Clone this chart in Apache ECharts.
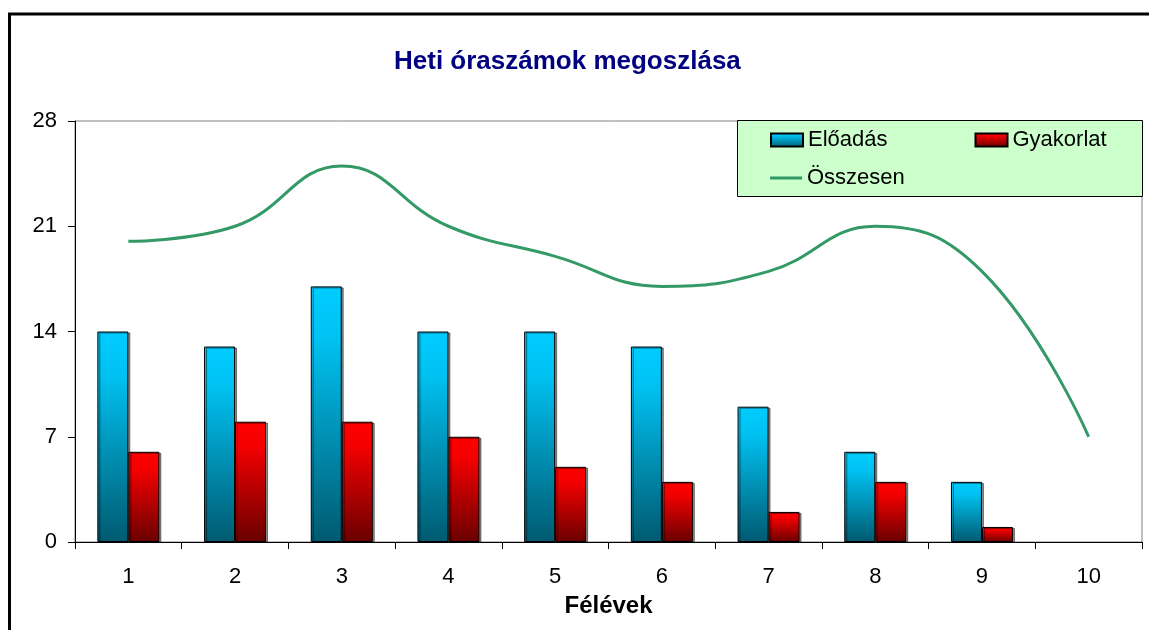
<!DOCTYPE html>
<html>
<head>
<meta charset="utf-8">
<script src="https://cdn.jsdelivr.net/npm/echarts@6/dist/echarts.min.js"></script>
<style>
  html, body { margin: 0; padding: 0; background: #fff; }
  #chart { width: 1149px; height: 630px; }
</style>
</head>
<body>
<div id="chart"></div>
<script>
const semesters = ['1', '2', '3', '4', '5', '6', '7', '8', '9', '10'];
const eloadas = [14, 13, 17, 14, 14, 13, 9, 6, 4, 0];
const gyakorlat = [6, 8, 8, 7, 5, 4, 2, 4, 1, 0];
const osszesen = [20, 21, 25, 21, 19, 17, 18, 21, 18, 7];
const yTicks = [0, 7, 14, 21, 28];

const font = 'Liberation Sans, Arial, sans-serif';

// zero bars are not drawn in the original, so skip them
const noZero = arr => arr.map(v => (v === 0 ? '-' : v));

const blueGrad = new echarts.graphic.LinearGradient(0, 0, 0, 1, [
  { offset: 0, color: '#00ccff' },
  { offset: 0.2, color: '#00c2f2' },
  { offset: 1, color: '#005a70' }
]);
const redGrad = new echarts.graphic.LinearGradient(0, 0, 0, 1, [
  { offset: 0, color: '#ff0000' },
  { offset: 0.2, color: '#f40000' },
  { offset: 1, color: '#6a0000' }
]);

const barShadow = {
  borderColor: '#000',
  borderWidth: 1,
  shadowColor: 'rgba(0,0,0,0.45)',
  shadowOffsetX: 2,
  shadowOffsetY: 1,
  shadowBlur: 0
};

const option = {
  animation: false,
  textStyle: { fontFamily: font },
  title: {
    text: 'Heti óraszámok megoszlása',
    left: 389,
    top: 44,
    textStyle: { fontFamily: font, fontSize: 26, fontWeight: 'bold', color: '#000080' }
  },
  graphic: [
    {
      type: 'rect',
      z: 0,
      shape: { x: 9.5, y: 14, width: 1170, height: 660 },
      style: { fill: 'none', stroke: '#000', lineWidth: 3 }
    },
    {
      type: 'rect',
      z: 1,
      shape: { x: 737.5, y: 120.5, width: 405, height: 76 },
      style: { fill: '#ccffcc', stroke: '#000', lineWidth: 1 }
    }
  ],
  legend: [
    {
      data: [{ name: 'Előadás', icon: 'rect' }, { name: 'Gyakorlat', icon: 'rect' }],
      left: 770,
      top: 129,
      padding: 0,
      itemWidth: 32,
      itemHeight: 13,
      itemGap: 87,
      z: 5,
      textStyle: { fontFamily: font, fontSize: 22, color: '#000' }
    },
    {
      data: [{ name: 'Összesen', icon: 'rect' }],
      left: 770,
      top: 167,
      padding: 0,
      itemWidth: 32,
      itemHeight: 3,
      z: 5,
      textStyle: { fontFamily: font, fontSize: 22, color: '#000' }
    }
  ],
  grid: {
    left: 75,
    right: 7,
    top: 121,
    bottom: 88,
    show: true,
    borderColor: '#808080',
    borderWidth: 1,
    backgroundColor: 'transparent'
  },
  xAxis: {
    type: 'category',
    data: semesters,
    name: 'Félévek',
    nameLocation: 'middle',
    nameGap: 52,
    nameTextStyle: { fontFamily: font, fontSize: 24, fontWeight: 'bold', color: '#000' },
    axisLine: { lineStyle: { color: '#000', width: 1 } },
    axisTick: { show: true, length: 7, lineStyle: { color: '#000' } },
    axisLabel: { fontFamily: font, fontSize: 22, color: '#000', margin: 24 },
    splitLine: { show: false }
  },
  yAxis: {
    type: 'value',
    min: yTicks[0],
    max: yTicks[yTicks.length - 1],
    interval: 7,
    axisLine: { show: true, lineStyle: { color: '#000', width: 1 } },
    axisTick: { show: true, length: 7, lineStyle: { color: '#000' } },
    axisLabel: { fontFamily: font, fontSize: 22, color: '#000', margin: 18 },
    splitLine: { show: false }
  },
  series: [
    {
      name: 'Előadás',
      type: 'bar',
      data: noZero(eloadas),
      barWidth: 31,
      barGap: '0%',
      itemStyle: Object.assign({ color: blueGrad }, barShadow)
    },
    {
      name: 'Gyakorlat',
      type: 'bar',
      data: noZero(gyakorlat),
      barWidth: 31,
      barGap: '0%',
      itemStyle: Object.assign({ color: redGrad }, barShadow)
    },
    {
      name: 'Összesen',
      type: 'line',
      data: osszesen,
      smooth: 0.45,
      symbol: 'none',
      lineStyle: { color: '#339966', width: 3 },
      itemStyle: { color: '#339966' },
      z: 3
    }
  ]
};

const myChart = echarts.init(document.getElementById('chart'));
myChart.setOption(option);
</script>
</body>
</html>
